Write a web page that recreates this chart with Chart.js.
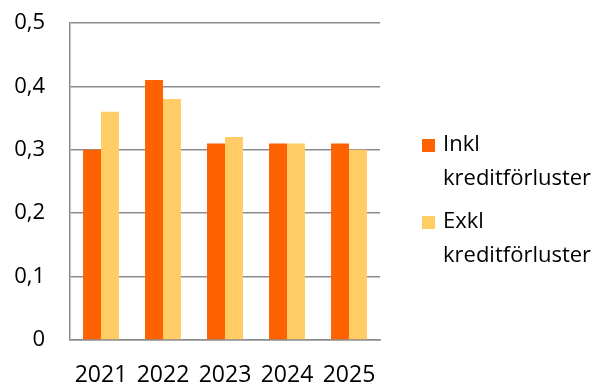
<!DOCTYPE html>
<html>
<head>
<meta charset="utf-8">
<script src="https://cdn.jsdelivr.net/npm/chart.js@4/dist/chart.umd.min.js"></script>
<style>
  html, body { margin: 0; padding: 0; background: #fff; }
  #wrap { width: 601px; height: 385px; position: relative; }
</style>
</head>
<body>
<div id="wrap"><canvas id="chart"></canvas></div>
<script>
// år och serier
const years = ['2021', '2022', '2023', '2024', '2025'];
const inklKredit = [0.30, 0.41, 0.31, 0.31, 0.31];
const exklKredit = [0.36, 0.38, 0.32, 0.31, 0.30];
const seriesLabels = [['Inkl', 'kreditförluster'], ['Exkl', 'kreditförluster']];
const seriesColors = ['#FF6200', '#FFCC66'];

const FONT = '"Open Sans", sans-serif';

// legend till höger, två rader per post
const sideLegend = {
    id: 'sideLegend',
    afterDraw(chart) {
        const ctx = chart.ctx;
        ctx.save();
        ctx.font = '22px ' + FONT;
        ctx.textBaseline = 'middle';
        ctx.textAlign = 'left';
        chart.data.datasets.forEach((ds, i) => {
            const y = 145 + i * 77;
            ctx.fillStyle = ds.backgroundColor;
            ctx.fillRect(422, y - 6, 13, 13);
            ctx.fillStyle = '#000';
            ds.label.forEach((line, j) => {
                ctx.fillText(line, 443, y + j * 34);
            });
        });
        ctx.restore();
    }
};

new Chart(document.getElementById('chart'), {
    type: 'bar',
    data: {
        labels: years,
        datasets: [
            { label: seriesLabels[0], data: inklKredit, backgroundColor: seriesColors[0] },
            { label: seriesLabels[1], data: exklKredit, backgroundColor: seriesColors[1] }
        ]
    },
    options: {
        responsive: true,
        maintainAspectRatio: false,
        animation: false,
        layout: { padding: { top: 23, right: 221, left: 0, bottom: 0 } },
        datasets: {
            bar: { categoryPercentage: 0.58, barPercentage: 1.0 }
        },
        plugins: {
            legend: { display: false },
            tooltip: { enabled: false }
        },
        scales: {
            x: {
                grid: { display: false, drawTicks: false },
                border: { display: true, color: '#8c8c8c', width: 1.5 },
                ticks: { color: '#000', font: { family: FONT, size: 23 }, padding: 22, maxRotation: 0 },
                afterFit(scale) {
                    scale.height = 45;
                    scale.paddingLeft = 0;
                    scale.paddingRight = 0;
                }
            },
            y: {
                min: 0,
                max: 0.5,
                grid: { color: '#8c8c8c', lineWidth: 1.5, drawTicks: false },
                border: { display: true, color: '#8c8c8c', width: 1.5 },
                ticks: {
                    stepSize: 0.1,
                    color: '#000',
                    padding: 25,
                    font: { family: FONT, size: 22 },
                    callback: v => v === 0 ? '0' : v.toFixed(1).replace('.', ',')
                },
                afterFit(scale) {
                    scale.width = 70;
                    scale.paddingTop = 0;
                    scale.paddingBottom = 0;
                }
            }
        }
    },
    plugins: [sideLegend]
});
</script>
</body>
</html>
